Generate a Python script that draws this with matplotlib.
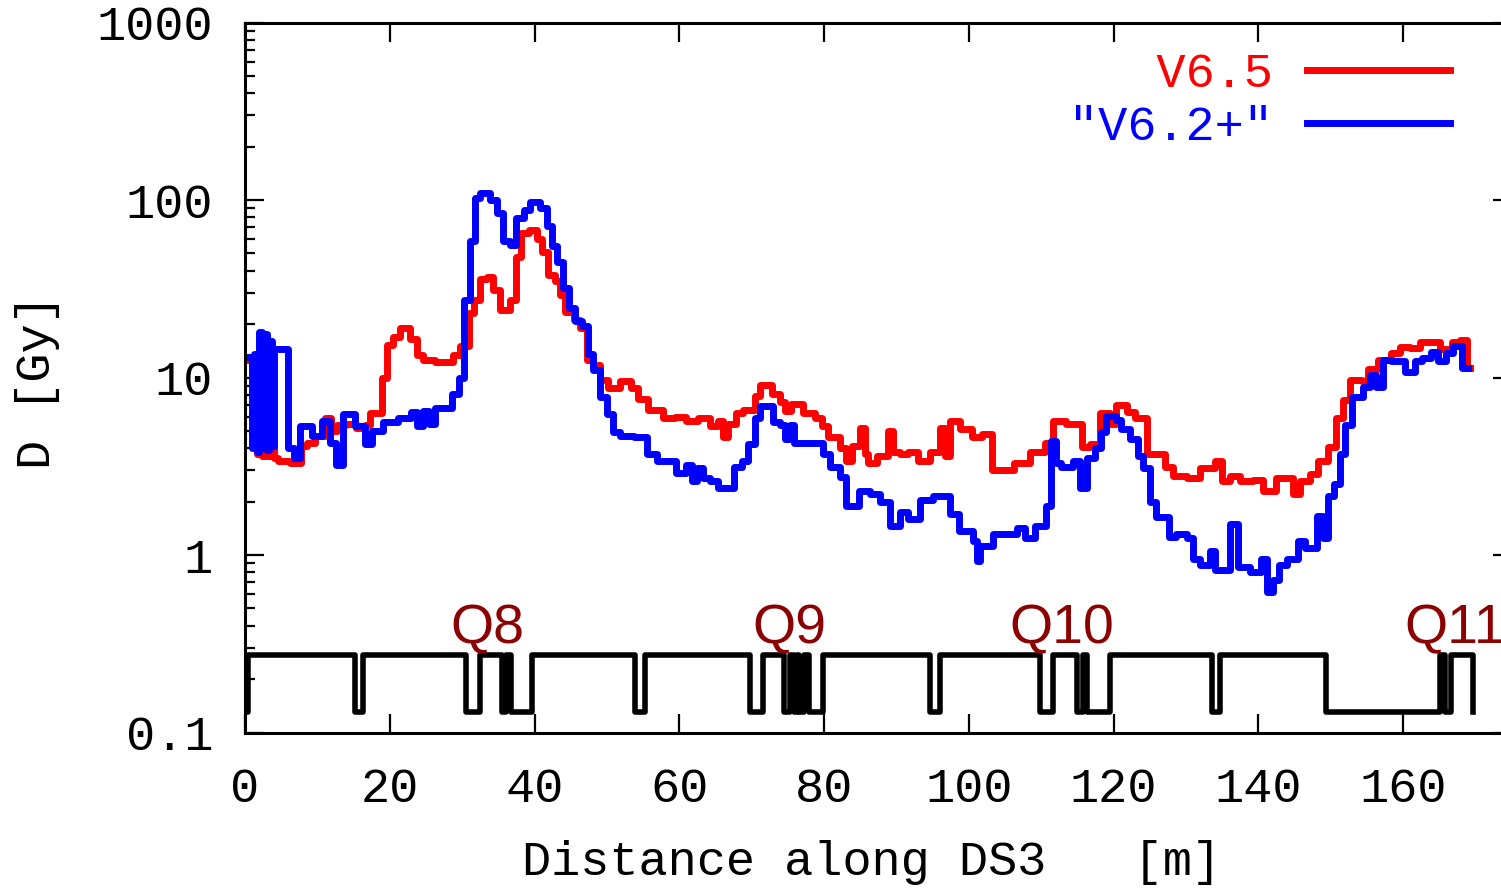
import matplotlib
matplotlib.use('Agg')
import matplotlib.pyplot as plt
from matplotlib import font_manager
from matplotlib.ticker import LogLocator, FixedLocator, FixedFormatter, NullFormatter

# V6.5 dose profile: bin start [m] and dose [Gy]
v65_x = [0.7, 1.1, 1.6, 2.0, 2.4, 2.8, 3.2, 3.6, 4.0, 4.6, 6.2, 7.8, 8.5, 9.7,
         11.0, 11.9, 12.7, 14.0, 15.4, 16.6, 17.3, 18.9, 19.6, 20.5, 21.4, 22.8,
         23.7, 24.6, 26.3, 28.8, 29.7, 30.9, 31.6, 32.5, 33.4, 34.3, 35.2, 36.6,
         37.5, 38.2, 39.2, 40.3, 41.0, 41.9, 42.8, 43.5, 44.2, 45.4, 46.3, 47.2,
         48.1, 49.0, 50.2, 51.8, 53.4, 54.3, 55.7, 57.8, 59.4, 61.0, 62.6, 64.2,
         65.4, 66.0, 66.8, 67.9, 68.8, 70.5, 71.2, 72.8, 73.9, 74.6, 75.5, 77.1,
         78.8, 79.7, 80.6, 82.2, 83.0, 83.8, 85.0, 85.6, 86.1, 87.3, 88.9, 89.6,
         90.5, 91.6, 93.0, 94.6, 96.0, 96.7, 97.4, 98.8, 100.4, 101.8, 103.2,
         106.2, 108.5, 110.5, 111.7, 113.5, 115.6, 116.7, 118.1, 119.5, 120.4,
         121.8, 122.9, 124.6, 127.1, 128.2, 130.1, 131.9, 134.0, 135.0, 136.1,
         137.5, 139.3, 140.7, 142.5, 143.9, 144.8, 145.8, 147.1, 148.3, 149.7,
         150.8, 151.7, 152.7, 154.3, 155.2, 156.6, 158.4, 159.6, 160.9, 162.3,
         165.1, 166.7, 167.9, 168.9]
v65_d = [12.5, 4.6, 3.7, 4.7, 3.6, 4.6, 3.6, 4.5, 3.5, 3.4, 3.3, 4.1, 4.3, 4.7,
         5.9, 5.0, 5.4, 5.5, 5.2, 5.4, 6.3, 10.0, 15.2, 17.0, 19.0, 16.4,
         13.4, 12.5, 12.3, 13.4, 15.0, 23.0, 27.5, 36.0, 37.0, 31.0, 24.0, 27.5,
         48.0, 65.0, 68.0, 60.0, 51.0, 38.0, 35.0, 29.0, 23.5, 21.0, 19.0, 12.5,
         11.7, 9.7, 8.7, 9.5, 8.7, 7.6, 6.6, 5.9, 6.0, 5.7, 5.9, 5.3,
         5.7, 4.6, 5.5, 6.3, 6.6, 7.9, 9.1, 8.1, 7.3, 6.5, 7.1, 6.3,
         5.9, 5.3, 4.6, 4.0, 3.4, 4.1, 5.2, 3.7, 3.3, 3.6, 5.0, 3.8,
         3.7, 3.8, 3.4, 3.8, 5.2, 3.6, 5.7, 5.1, 4.6, 4.8, 3.0,
         3.3, 3.8, 4.3, 5.7, 5.5, 4.05, 4.2, 6.3, 5.5, 7.0,
         6.4, 5.9, 3.7, 3.15, 2.8, 2.7, 3.1, 3.4, 2.6, 2.8,
         2.6, 2.65, 2.3, 2.7, 2.7, 2.2, 2.6, 2.85, 3.4, 4.05,
         5.9, 7.5, 9.7, 9.5, 11.2, 12.5, 13.7, 14.8, 14.7, 15.8,
         14.5, 15.8, 16.2, 11.3]
v65_end = 169.2

# "V6.2+" dose profile: bin start [m] and dose [Gy]
v62_x = [0.7, 1.0, 1.3, 1.6, 1.9, 2.3, 2.6, 3.0, 3.3, 3.7, 4.0, 6.0, 6.8, 7.6,
         9.2, 10.6, 11.7, 12.6, 13.6, 15.2, 16.6, 17.5, 19.1, 21.2, 23.0, 23.8,
         24.6, 25.4, 26.2, 28.6, 29.5, 30.2, 31.1, 31.8, 32.5, 33.9, 34.8, 35.7,
         36.6, 37.5, 38.5, 39.4, 40.8, 41.7, 42.4, 43.1, 44.0, 44.7, 45.6, 46.5,
         47.4, 48.1, 49.0, 50.0, 50.9, 51.8, 53.7, 55.6, 56.9, 59.6, 61.0, 61.7,
         62.4, 63.3, 64.2, 65.4, 67.5, 68.6, 69.5, 70.5, 71.2, 73.0, 73.9, 74.6,
         75.3, 75.8, 79.9, 80.8, 82.2, 83.1, 84.8, 86.4, 87.7, 89.1, 90.5, 91.6,
         93.3, 95.1, 97.4, 98.6, 100.6, 101.1, 101.6, 103.4, 106.6, 107.8, 109.1,
         110.7, 111.4, 112.1, 112.8, 114.4, 115.3, 116.3, 117.4, 118.3, 119.0,
         120.4, 121.1, 122.3, 123.4, 124.1, 125.0, 125.9, 127.6, 128.7, 130.1,
         131.0, 131.9, 133.3, 134.0, 136.1, 137.2, 138.8, 140.4, 141.2, 142.0,
         142.8, 143.9, 145.5, 146.4, 148.1, 148.9, 149.7, 150.4, 151.3, 152.0,
         152.9, 154.5, 155.4, 156.3, 157.3, 158.4, 160.3, 161.6, 162.6, 163.8,
         164.9, 166.0, 166.9, 168.1]
v62_d = [13.0, 4.0, 13.5, 3.8, 18.0, 4.0, 17.5, 3.9, 16.0, 4.1, 14.5, 4.0, 3.5, 5.3,
         4.7, 5.7, 4.3, 3.2, 6.2, 5.3, 4.2, 5.0, 5.6, 5.9, 6.4, 5.3,
         6.5, 5.5, 6.7, 8.1, 10.0, 27.5, 59.0, 102.0, 109.0, 100.0, 84.0, 59.0,
         56.0, 79.0, 88.0, 98.0, 90.0, 71.0, 55.0, 45.0, 32.0, 24.5, 20.8, 19.5,
         13.5, 11.0, 7.8, 6.2, 4.9, 4.7, 4.6, 3.7, 3.4, 2.9, 3.2, 2.6,
         3.1, 2.7, 2.6, 2.4, 3.15, 3.4, 4.2, 5.9, 6.9, 5.6, 5.4, 4.5,
         5.4, 4.3, 3.7, 3.15, 2.75, 1.9, 2.3, 2.2, 2.0, 1.45, 1.75, 1.6,
         2.04, 2.15, 1.7, 1.37, 1.2, 0.92, 1.12, 1.32, 1.42, 1.25, 1.45,
         1.9, 4.4, 3.3, 3.15, 3.4, 2.4, 3.5, 4.0, 4.95, 6.1,
         5.75, 5.1, 4.5, 3.6, 3.1, 2.0, 1.64, 1.27, 1.32, 1.25,
         0.95, 0.88, 1.05, 0.82, 1.5, 0.86, 0.8, 0.95, 0.62, 0.72,
         0.88, 0.95, 1.2, 1.1, 1.65, 1.25, 2.15, 2.5, 3.7, 5.4,
         7.8, 8.8, 10.3, 8.8, 12.5, 12.4, 10.7, 12.4, 12.8, 14.0,
         12.4, 13.7, 15.0, 11.3]
v62_end = 169.0

# beam line layout: switch positions [m] and level (0 = element, 1 = drift)
lattice_x = [0.3, 0.45, 15.2, 16.35, 30.6, 32.5, 35.5, 36.0, 36.8, 39.6, 53.9,
             55.3, 69.8, 71.6, 74.5, 75.3, 75.8, 76.2, 76.6, 77.3, 77.9, 79.9,
             94.65, 96.0, 109.9, 111.6, 115.0, 115.8, 116.4, 119.5, 133.6, 134.7,
             149.4, 165.1, 165.8, 166.6, 169.7]
lattice_state = [0, 1, 0, 1, 0, 1, 0, 1, 0, 1, 0, 1, 0, 1, 0, 1, 0, 1, 0, 1, 0, 1,
                 0, 1, 0, 1, 0, 1, 0, 1, 0, 1, 0, 1, 0, 1, 0]
lattice_lo = 0.131
lattice_hi = 0.273

# quadrupole names and positions [m]
quad_names = ['Q8', 'Q9', 'Q10', 'Q11']
quad_pos = [33.5, 75.2, 112.9, 167.2]

mono = 'Liberation Mono'
fs = 35

# narrow sans for the magnet names if present
try:
    font_manager.findfont('Liberation Sans Narrow', fallback_to_default=False)
    quad_font, quad_fs = 'Liberation Sans Narrow', 44
except ValueError:
    quad_font, quad_fs = 'Liberation Sans', 40

fig = plt.figure(figsize=(15.01, 8.88), dpi=100)
ax = fig.add_axes([0.16322, 0.17511, 0.84384, 0.79955])

ax.plot(v65_x + [v65_end], v65_d + [v65_d[-1]], drawstyle='steps-post',
        color='#ff0000', lw=5, label='   V6.5')
ax.plot(v62_x + [v62_end], v62_d + [v62_d[-1]], drawstyle='steps-post',
        color='#0000ff', lw=5, label='"V6.2+"')

lat_y = [lattice_hi if s else lattice_lo for s in lattice_state]
ax.plot(lattice_x, lat_y, drawstyle='steps-post', color='black', lw=4)

for name, pos in zip(quad_names, quad_pos):
    ax.text(pos, 0.319, name, ha='center', va='baseline', color='#8b0000',
            family=quad_font, fontsize=quad_fs)

ax.set_yscale('log')
ax.set_xlim(0, 175)
ax.set_ylim(0.1, 1000)

ax.xaxis.set_major_locator(FixedLocator([0, 20, 40, 60, 80, 100, 120, 140, 160]))
ax.yaxis.set_major_locator(FixedLocator([0.1, 1, 10, 100, 1000]))
ax.yaxis.set_major_formatter(FixedFormatter(['0.1', '1', '10', '100', '1000']))
ax.yaxis.set_minor_locator(LogLocator(base=10, subs=[2, 3, 4, 5, 6, 7, 8, 9]))
ax.yaxis.set_minor_formatter(NullFormatter())

ax.tick_params(which='both', direction='in', top=True, right=True, width=1.6)
ax.tick_params(which='major', length=14)
ax.tick_params(which='minor', length=7)
ax.tick_params(axis='x', pad=25, labelsize=fs)
ax.tick_params(axis='y', pad=23, labelsize=fs)
for lab in ax.get_xticklabels() + ax.get_yticklabels():
    lab.set_family(mono)
for sp in ax.spines.values():
    sp.set_linewidth(2.2)

fig.text(38 / 1501, 1 - 382 / 888, 'D [Gy]', rotation=90, ha='center',
         va='center', family=mono, fontsize=fs)
fig.text(872 / 1501, 1 - 862 / 888, 'Distance along DS3   [m]', ha='center',
         va='center', family=mono, fontsize=fs)

leg = ax.legend(loc='upper right', bbox_to_anchor=(1450 / 1501, 1 - 52 / 888),
                bbox_transform=fig.transFigure, frameon=False, markerfirst=False,
                labelcolor='linecolor', handlelength=2.95, handletextpad=0.7,
                borderpad=0, borderaxespad=0, labelspacing=0.17,
                prop={'family': mono, 'size': fs})

plt.savefig('out.png', dpi=100)
